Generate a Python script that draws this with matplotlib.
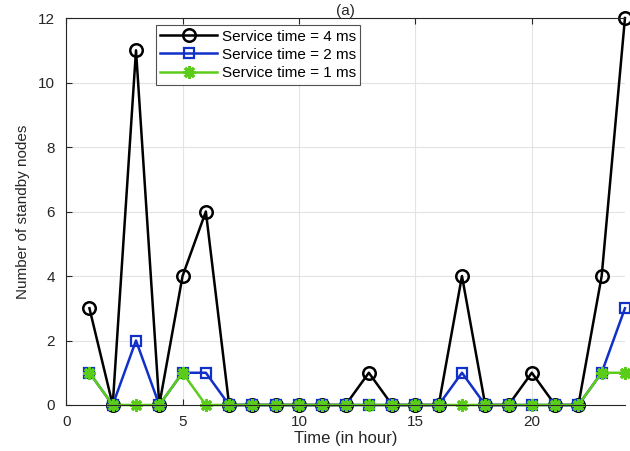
import matplotlib
matplotlib.use('Agg')
import matplotlib.pyplot as plt

hours = list(range(1, 25))
st_4ms = [3, 0, 11, 0, 4, 6, 0, 0, 0, 0, 0, 0, 1, 0, 0, 0, 4, 0, 0, 1, 0, 0, 4, 12]
st_2ms = [1, 0, 2, 0, 1, 1, 0, 0, 0, 0, 0, 0, 0, 0, 0, 0, 1, 0, 0, 0, 0, 0, 1, 3]
st_1ms = [1, 0, 0, 0, 1, 0, 0, 0, 0, 0, 0, 0, 0, 0, 0, 0, 0, 0, 0, 0, 0, 0, 1, 1]

plt.rcParams['font.family'] = ['Liberation Sans', 'DejaVu Sans']

fig = plt.figure(figsize=(6.3, 4.51), dpi=100)
ax = fig.add_axes([0.105, 0.102, 0.887, 0.858])

ax.plot(hours, st_4ms, color='black', lw=1.8, marker='o', ms=9,
        mfc='none', mew=1.8, label='Service time = 4 ms', clip_on=False)
ax.plot(hours, st_2ms, color='#1030c8', lw=1.8, marker='s', ms=6.5,
        mfc='none', mew=1.6, label='Service time = 2 ms', clip_on=False)
ax.plot(hours, st_1ms, color='#5ccc1a', lw=1.8, marker=(8, 2, 0), ms=9,
        mew=2.2, label='Service time = 1 ms', clip_on=False)

ax.set_xlim(0, 24)
ax.set_ylim(0, 12)
ax.set_xticks([0, 5, 10, 15, 20])
ax.set_yticks([0, 2, 4, 6, 8, 10, 12])
ax.grid(True, color='#e3e3e3', lw=0.8)
ax.set_axisbelow(True)
ax.tick_params(direction='in', top=True, right=False, labelsize=11,
               colors='#262626', length=4)
ax.tick_params(axis='x', pad=7)
ax.tick_params(axis='y', pad=8)
for s in ax.spines.values():
    s.set_color('#262626')
    s.set_linewidth(0.8)
ax.spines['right'].set_visible(False)

ax.set_xlabel('Time (in hour)', fontsize=12, color='#262626', labelpad=2)
ax.set_ylabel('Number of standby nodes', fontsize=11, color='#262626', labelpad=6)
ax.set_title('(a)', fontsize=11, color='#262626', pad=2)

leg = ax.legend(loc='upper left', bbox_to_anchor=(0.155, 0.99), fontsize=11,
                frameon=True, fancybox=False, edgecolor='#262626',
                borderpad=0.3, labelspacing=0.28, handlelength=3.7,
                handletextpad=0.3, borderaxespad=0.2)
leg.get_frame().set_linewidth(0.8)

fig.savefig('out.png', dpi=100)
